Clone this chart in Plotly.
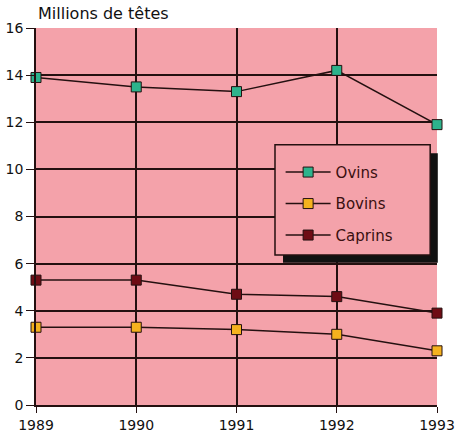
import plotly.graph_objects as go

annees = [1989, 1990, 1991, 1992, 1993]
ovins = [13.9, 13.5, 13.3, 14.2, 11.9]
bovins = [3.3, 3.3, 3.2, 3.0, 2.3]
caprins = [5.3, 5.3, 4.7, 4.6, 3.9]

fond = '#F4A2AA'
trait = '#241010'
police = 'DejaVu Sans, sans-serif'

fig = go.Figure()

# une courbe par espèce
for nom, valeurs, couleur in [('Ovins', ovins, '#2DB38C'),
                              ('Bovins', bovins, '#F5B21E'),
                              ('Caprins', caprins, '#6E0C14')]:
    fig.add_trace(go.Scatter(
        x=annees, y=valeurs, name=nom, mode='lines+markers',
        line=dict(color=trait, width=1.5),
        marker=dict(symbol='square', size=10, color=couleur,
                    line=dict(color=trait, width=1)),
        legendgroup=nom,
        cliponaxis=False,
    ))

# cadre de la légende avec son ombre
fig.add_shape(type='rect', xref='paper', yref='paper',
              x0=0.616, x1=1.002, y0=0.377, y1=0.668,
              fillcolor='#111111', line=dict(width=0), layer='above')
fig.add_shape(type='rect', xref='paper', yref='paper',
              x0=0.596, x1=0.983, y0=0.398, y1=0.690,
              fillcolor=fond, line=dict(color=trait, width=1.5), layer='above')

fig.update_layout(
    width=456, height=435,
    margin=dict(l=36, r=19, t=28, b=30),
    plot_bgcolor=fond, paper_bgcolor='white',
    font=dict(family=police, size=13, color='#111111'),
    showlegend=True,
    legend=dict(x=0.61, y=0.661, xanchor='left', yanchor='top',
                bgcolor='rgba(0,0,0,0)', borderwidth=0,
                font=dict(size=15, color='#3a1010'),
                tracegroupgap=9, itemwidth=45,
                ),
    annotations=[dict(text='Millions de têtes', xref='paper', yref='paper',
                      x=0.0, y=1.0, xanchor='left', yanchor='bottom',
                      yshift=3, showarrow=False, font=dict(size=16))],
)
fig.update_xaxes(range=[1989, 1993], tickvals=annees, showgrid=True,
                 gridcolor=trait, gridwidth=1.5, showline=True,
                 linecolor=trait, linewidth=1.5, ticks='outside',
                 ticklen=6, tickcolor=trait, zeroline=False,
                 tickfont=dict(size=14), automargin=False)
fig.update_yaxes(range=[0, 16], dtick=2, showgrid=True, gridcolor=trait,
                 gridwidth=1.5, showline=True, linecolor=trait, linewidth=1.5,
                 ticks='outside', ticklen=8, tickcolor=trait, zeroline=False,
                 tickfont=dict(size=14), automargin=False)

# la page ne doit pas décaler le graphique
fig.write_html("out.html", config={'displayModeBar': False},
               post_script="document.body.style.margin='0';")
